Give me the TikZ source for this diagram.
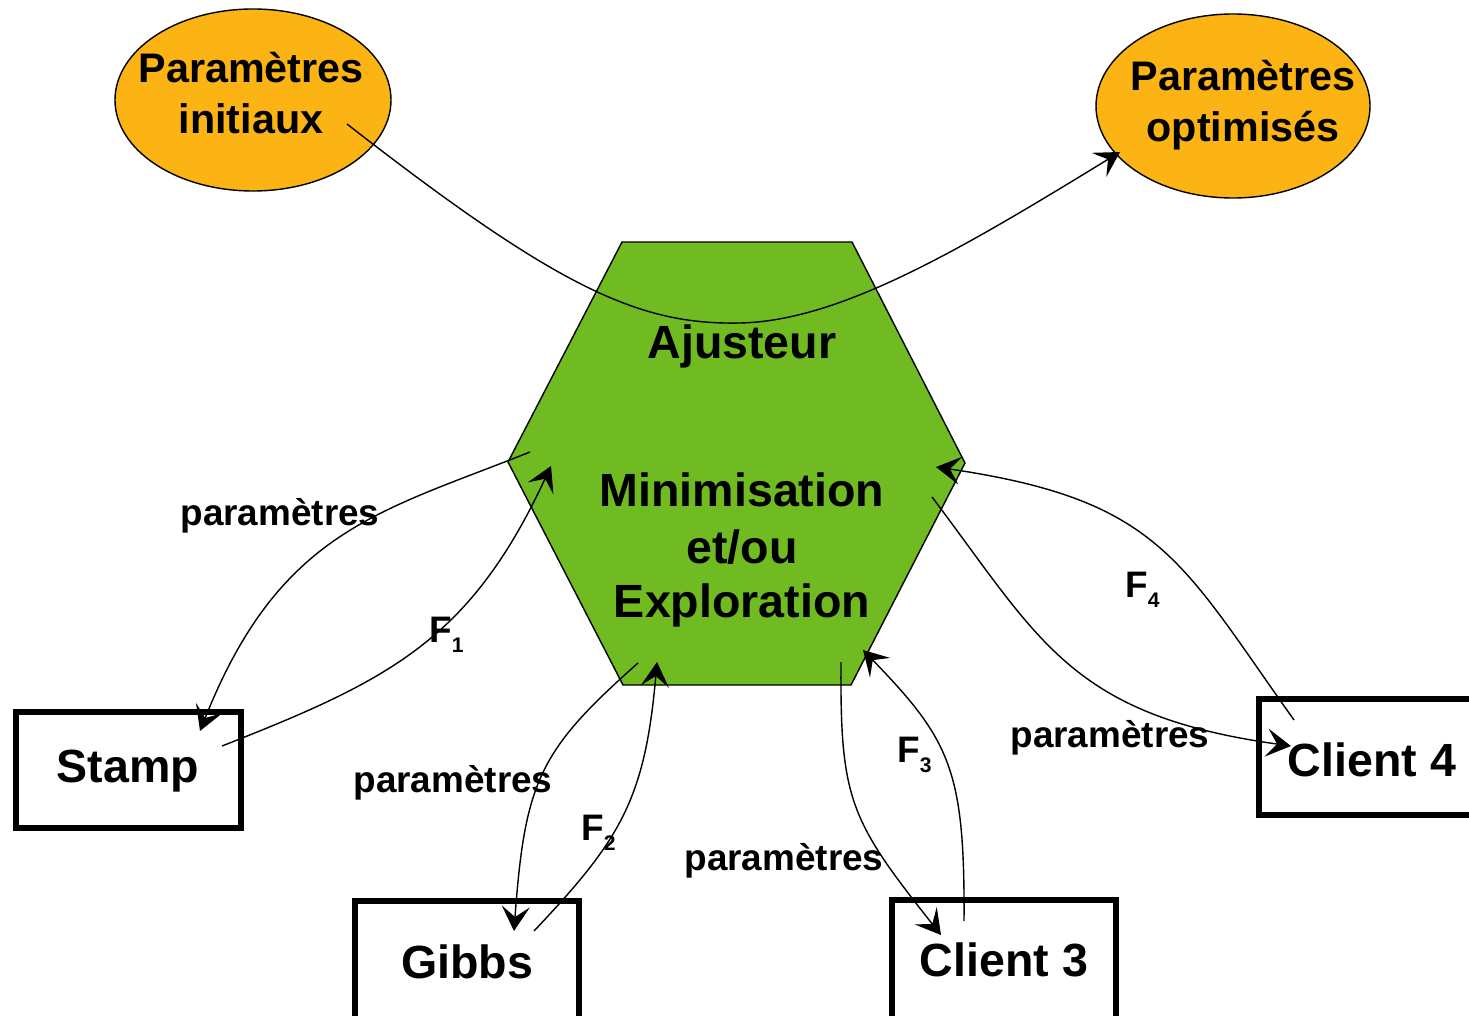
\documentclass[tikz,border=0pt]{standalone}
\usepackage{fontspec}
\setmainfont{Liberation Sans}
\usetikzlibrary{arrows.meta,shapes.geometric}
\definecolor{hexgreen}{RGB}{112,186,34}
\definecolor{ellorange}{RGB}{252,180,20}
\tikzset{
  conn/.style={line width=0.8pt,-{Stealth[length=14pt,width=16pt,inset=6pt]}},
  boxline/.style={line width=3pt},
  lbl/.style={font=\fontsize{21}{24}\selectfont\bfseries,inner sep=0pt},
  big/.style={font=\fontsize{26.5}{30}\selectfont\bfseries,inner sep=0pt},
  elltext/.style={font=\fontsize{23.5}{29}\selectfont\bfseries,align=center,inner sep=0pt},
  ell/.style={draw,line width=0.8pt,fill=ellorange},
}
\newcommand{\Fsub}[1]{F\raisebox{-6pt}{\fontsize{12}{12}\selectfont #1}}
\begin{document}
\begin{tikzpicture}[x=0.02cm,y=-0.02cm]
\useasboundingbox (0,0) rectangle (1469,1016);
% hexagon
\draw[line width=0.8pt,fill=hexgreen] (622,242) -- (852,242) -- (965,463) -- (851,685) -- (623,685) -- (508,462) -- cycle;
\node[big] (aj) at (742,346) {Ajusteur};
\node[big] (mi) at (742,490) {Minimisation};
\node[big] (et) at (742,547) {et/ou};
\node[big] (ex) at (742,605) {Exploration};
% ellipses
\draw[ell] (253,100) ellipse [x radius=138, y radius=91];
\draw[ell] (1233,106) ellipse [x radius=137, y radius=92];
\node[elltext] (pi) at (251,93) {Paramètres\\initiaux};
\node[elltext] (po) at (1243,105) {Paramètres\\optimisés};
% boxes
\draw[boxline] (16,712) rectangle (241,828);
\draw[boxline] (355,901) rectangle (579,1030);
\draw[boxline] (892,900) rectangle (1116,1030);
\draw[boxline] (1259,699) rectangle (1480,815);
\node[big] (stamp) at (128,771) {Stamp};
\node[big] (gibbs) at (467,962) {Gibbs};
\node[big] (c3) at (1004,960) {Client 3};
\node[big] (c4) at (1372,760) {Client 4};
% connector endpoints
\coordinate (a1) at (347,124);
\coordinate (a2) at (1120,152);
\coordinate (s1) at (530,452);
\coordinate (s2) at (200,731);
\coordinate (f1a) at (222,746);
\coordinate (f1b) at (551,466);
\coordinate (g1) at (638,663);
\coordinate (g2) at (514,931);
\coordinate (f2a) at (534,931);
\coordinate (f2b) at (657,662);
\coordinate (c3a) at (841,662);
\coordinate (c3b) at (941,935);
\coordinate (f3a) at (964,921);
\coordinate (f3b) at (863,650);
\coordinate (c4a) at (932,497);
\coordinate (c4b) at (1291,746);
\coordinate (f4a) at (1294,720);
\coordinate (f4b) at (936,467);
% connectors
\draw[conn] (a1) .. controls (560,290) and (640,325) .. (740,323) .. controls (840,321) and (960,250) .. (a2);
\draw[conn] (s1) .. controls (380,512) and (280,530) .. (s2);
\draw[conn] (f1a) .. controls (390,680) and (470,640) .. (f1b);
\draw[conn] (g1) .. controls (540,750) and (525,780) .. (g2);
\draw[conn] (f2a) .. controls (620,840) and (645,800) .. (f2b);
\draw[conn] (c3a) .. controls (840,800) and (850,820) .. (c3b);
\draw[conn] (f3a) .. controls (965,770) and (950,740) .. (f3b);
\draw[conn] (c4a) .. controls (1040,640) and (1070,715) .. (c4b);
\draw[conn] (f4a) .. controls (1180,560) and (1160,500) .. (f4b);
% labels
\node[lbl] (l1) at (280,516) {paramètres};
\node[lbl] (l2) at (453,783) {paramètres};
\node[lbl] (l3) at (784,861) {paramètres};
\node[lbl] (l4) at (1110,738) {paramètres};
\node[lbl,anchor=base west] (F1) at (429,642) {\Fsub{1}};
\node[lbl,anchor=base west] (F2) at (581,840) {\Fsub{2}};
\node[lbl,anchor=base west] (F3) at (897,762) {\Fsub{3}};
\node[lbl,anchor=base west] (F4) at (1125,597) {\Fsub{4}};
\end{tikzpicture}
\end{document}
